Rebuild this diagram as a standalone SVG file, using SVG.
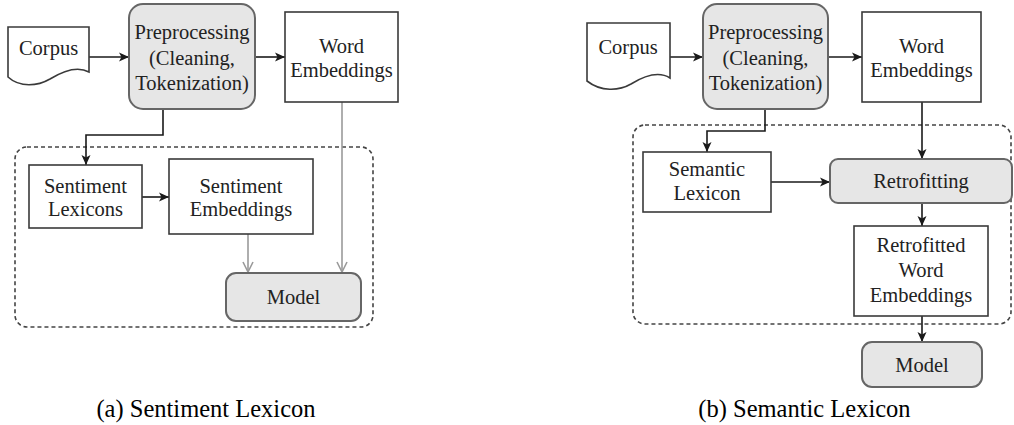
<svg xmlns="http://www.w3.org/2000/svg" width="1014" height="425" viewBox="0 0 1014 425">
<defs>
<marker id="ah" markerUnits="userSpaceOnUse" markerWidth="12" markerHeight="12" viewBox="0 0 12 12" refX="11" refY="6" orient="auto">
<path d="M1,1.5 L11,6 L1,10.5 L3.5,6 Z" fill="#1a1a1a"/>
</marker>
<marker id="ahg" markerUnits="userSpaceOnUse" markerWidth="14" markerHeight="14" viewBox="0 0 14 14" refX="12" refY="7" orient="auto">
<path d="M2,2 L12,7 L2,12" fill="none" stroke="#9a9a9a" stroke-width="1.6"/>
</marker>
<style>
.box{fill:#fff;stroke:#3a3a3a;stroke-width:1.6}
.rbox{fill:#e6e6e6;stroke:#666;stroke-width:2}
.cont{fill:none;stroke:#444;stroke-width:1.6;stroke-dasharray:4 3}
.t{font-family:'Liberation Serif','Times New Roman',Tinos,'Noto Serif','DejaVu Serif',FreeSerif,serif;font-size:20.5px;fill:#222;text-anchor:middle}
.cap{font-family:'Liberation Serif','Times New Roman',Tinos,'Noto Serif','DejaVu Serif',FreeSerif,serif;font-size:24.5px;fill:#000;text-anchor:middle}
.c{fill:none;stroke:#1a1a1a;stroke-width:1.6;marker-end:url(#ah)}
.cg{fill:none;stroke:#9a9a9a;stroke-width:1.6;marker-end:url(#ahg)}
</style>
</defs>
<rect fill="#fff" x="0" y="0" width="1014" height="425"/>

<g id="container-a"><rect class="cont" x="15" y="147" width="358" height="180" rx="12"/></g>
<g id="container-b"><rect class="cont" x="633" y="125" width="378" height="199" rx="12"/></g>

<g id="connectors">
<path class="c" d="M89,57 H129"/>
<path class="c" d="M255,57 H285"/>
<path class="c" d="M163,109 V135 H86 V165"/>
<path class="c" d="M142,197 H169"/>
<path class="cg" d="M248,234 V272"/>
<path class="cg" d="M342,102 V272"/>
<path class="c" d="M670,57 H703"/>
<path class="c" d="M828,57 H862"/>
<path class="c" d="M765,109 V131 H707 V152"/>
<path class="c" d="M922,102 V159"/>
<path class="c" d="M771,182 H830"/>
<path class="c" d="M922,203 V226"/>
<path class="c" d="M922,316 V342"/>
</g>

<g id="corpus-a">
<path class="box" d="M8,27 H89 V72 C78,66 63,71 50,79 C38,86 20,88 8,77 Z"/>
<text class="t" x="48.5" y="55">Corpus</text>
</g>
<g id="preprocessing-a">
<rect class="rbox" x="129" y="4" width="126" height="105" rx="14"/>
<text class="t" x="192" y="39">Preprocessing</text>
<text class="t" x="192" y="65">(Cleaning,</text>
<text class="t" x="192" y="90">Tokenization)</text>
</g>
<g id="word-embeddings-a">
<rect class="box" x="285" y="12" width="113" height="90"/>
<text class="t" x="341.5" y="53">Word</text>
<text class="t" x="341.5" y="77">Embeddings</text>
</g>
<g id="sentiment-lexicons">
<rect class="box" x="29" y="165" width="113" height="63"/>
<text class="t" x="85.5" y="193">Sentiment</text>
<text class="t" x="85.5" y="216">Lexicons</text>
</g>
<g id="sentiment-embeddings">
<rect class="box" x="169" y="159" width="144" height="75"/>
<text class="t" x="241" y="193">Sentiment</text>
<text class="t" x="241" y="216">Embeddings</text>
</g>
<g id="model-a">
<rect class="rbox" x="226" y="273" width="135" height="48" rx="10"/>
<text class="t" x="293.5" y="304">Model</text>
</g>
<text class="cap" x="206" y="417">(a) Sentiment Lexicon</text>

<g id="corpus-b">
<path class="box" d="M587,23 H670 V78 C659,71 644,76 631,84 C619,91 601,92 587,81 Z"/>
<text class="t" x="628" y="54">Corpus</text>
</g>
<g id="preprocessing-b">
<rect class="rbox" x="703" y="4" width="125" height="105" rx="14"/>
<text class="t" x="765.5" y="39">Preprocessing</text>
<text class="t" x="765.5" y="65">(Cleaning,</text>
<text class="t" x="765.5" y="90">Tokenization)</text>
</g>
<g id="word-embeddings-b">
<rect class="box" x="862" y="12" width="119" height="90"/>
<text class="t" x="921.5" y="53">Word</text>
<text class="t" x="921.5" y="77">Embeddings</text>
</g>
<g id="semantic-lexicon">
<rect class="box" x="643" y="152" width="128" height="60"/>
<text class="t" x="707" y="176">Semantic</text>
<text class="t" x="707" y="200">Lexicon</text>
</g>
<g id="retrofitting">
<rect class="rbox" x="830" y="159" width="182" height="44" rx="8"/>
<text class="t" x="921" y="188">Retrofitting</text>
</g>
<g id="retrofitted-word-embeddings">
<rect class="box" x="854" y="226" width="134" height="90"/>
<text class="t" x="921" y="252">Retrofitted</text>
<text class="t" x="921" y="277">Word</text>
<text class="t" x="921" y="302">Embeddings</text>
</g>
<g id="model-b">
<rect class="rbox" x="862" y="342" width="120" height="45" rx="10"/>
<text class="t" x="922" y="372">Model</text>
</g>
<text class="cap" x="804.5" y="417">(b) Semantic Lexicon</text>
</svg>
